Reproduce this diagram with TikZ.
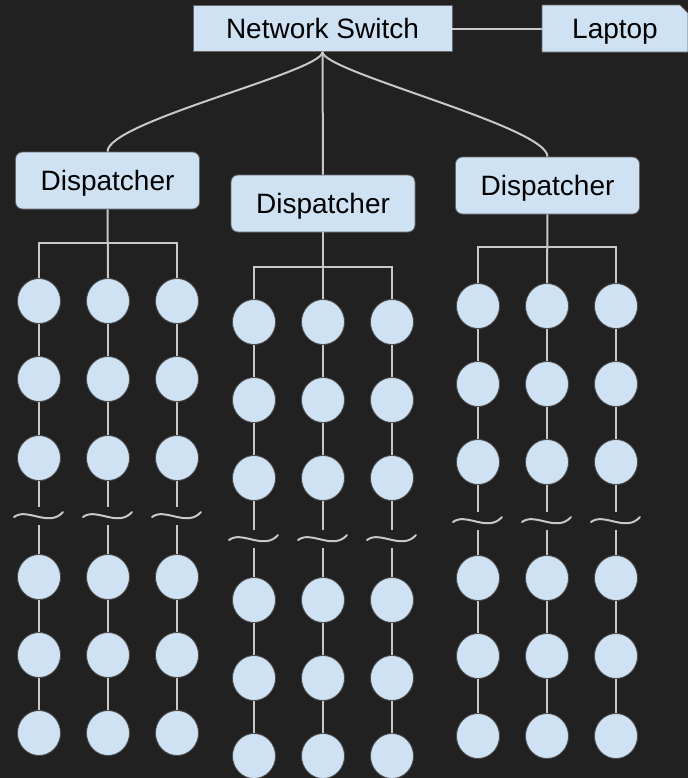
\documentclass[tikz,border=0pt]{standalone}
\usepackage{fontspec}
\setmainfont{Liberation Sans}
\usepackage{xcolor}
\usetikzlibrary{shapes.geometric,shapes.misc}
\definecolor{bgdark}{HTML}{212121}
\definecolor{boxblue}{HTML}{CFE2F3}
\definecolor{wiregray}{HTML}{C8C8C8}

\begin{document}
\begin{tikzpicture}[x=0.5pt, y=-0.5pt, box/.style={rectangle, draw=black!60, fill=boxblue, line width=0.4pt, inner sep=0pt, text height=10pt, text depth=0pt, font=\fontsize{14}{17}\selectfont}, disp/.style={box, rounded corners=3.5pt, minimum width=92pt, minimum height=28.5pt}, worker/.style={ellipse, draw=black!70, fill=boxblue, line width=0.4pt, minimum width=21.5pt, minimum height=22.5pt, inner sep=0pt}, wire/.style={draw=wiregray, line width=1pt}]

\fill[bgdark] (0,0) rectangle (688,778);
\useasboundingbox (0,0) rectangle (688,778);

\node[box, minimum width=129.5pt, minimum height=23pt] (switch) at (322.5,28.5) {Network Switch};
\node[box, chamfered rectangle, chamfered rectangle corners=north east, chamfered rectangle xsep=2pt, chamfered rectangle ysep=2pt, minimum width=73pt, minimum height=23.5pt] (laptop) at (615,28.5) {Laptop};

\node[disp] (L) at (107.5,180.5) {Dispatcher};
\node[disp] (M) at (323,203.5) {Dispatcher};
\node[disp] (R) at (547.5,185.5) {Dispatcher};

\draw[wire] (switch.east) -- (laptop.west);
\draw[wire] (switch.south) .. controls +(0,20) and +(0,-30) .. (L.north);
\draw[wire] (switch.south) -- (M.north);
\draw[wire] (switch.south) .. controls +(0,20) and +(0,-30) .. (R.north);

\foreach \g/\cx/\bus/\ya/\yb/\yc/\yd/\ye/\yf/\yt in {L/108/243/301/379/458/577/655/733/516, M/323/267/322/400/478/600/678/756/539, R/547/247/306/384/462/578/656/736/521}{
  \coordinate (\g-bus) at (\cx,\bus);
  \foreach \c/\dx in {1/-69, 2/0, 3/69}{
    \pgfmathsetmacro\colx{\cx+\dx}
    \foreach \r/\yy in {1/\ya, 2/\yb, 3/\yc, 4/\yd, 5/\ye, 6/\yf}
      \node[worker] (\g-\c-\r) at (\colx,\yy) {};
    \coordinate (\g-\c-cuta) at (\colx,\yt-9);
    \coordinate (\g-\c-cutb) at (\colx,\yt+9);
    \draw[wire] (\g-\c-1) -- (\g-\c-2) -- (\g-\c-3) -- (\g-\c-cuta);
    \draw[wire] (\g-\c-cutb) -- (\g-\c-4) -- (\g-\c-5) -- (\g-\c-6);
    \draw[wire, line cap=round] (\colx-25,\yt+1) .. controls (\colx-12,\yt-9) and (\colx+10,\yt+12) .. (\colx+24,\yt-4);
  }
  \draw[wire] (\g.south) -- (\g-2-1.north);
  \draw[wire] (\g-1-1.north) |- (\g-bus) -| (\g-3-1.north);
}
\end{tikzpicture}
\end{document}
